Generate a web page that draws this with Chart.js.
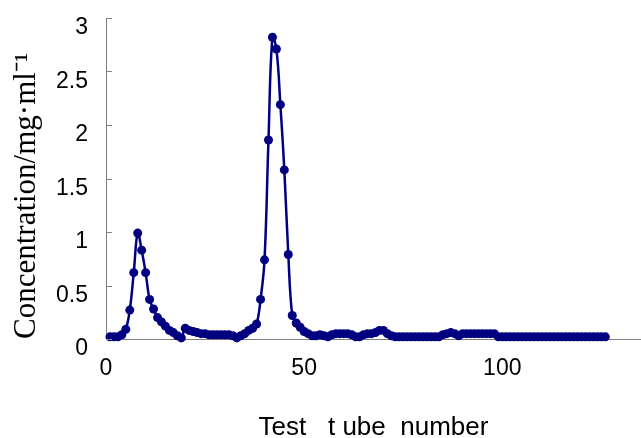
<!DOCTYPE html>
<html>
<head>
<meta charset="utf-8">
<script src="https://cdn.jsdelivr.net/npm/chart.js@4"></script>
<style>
    body { margin: 0; background: #ffffff; }
    #wrap { width: 641px; height: 438px; }
</style>
</head>
<body>
<div id="wrap"><canvas id="chart"></canvas></div>
<script>
const concentration = [
    0.02, 0.02, 0.02, 0.04, 0.09, 0.27, 0.62, 0.99, 0.83, 0.62,
    0.37, 0.28, 0.20, 0.16, 0.12, 0.08, 0.06, 0.03, 0.01, 0.10,
    0.08, 0.07, 0.06, 0.05, 0.05, 0.04, 0.04, 0.04, 0.04, 0.04,
    0.04, 0.03, 0.01, 0.03, 0.05, 0.08, 0.10, 0.14, 0.37, 0.74,
    1.86, 2.82, 2.71, 2.19, 1.58, 0.79, 0.22, 0.15, 0.11, 0.07,
    0.05, 0.03, 0.03, 0.04, 0.03, 0.02, 0.04, 0.05, 0.05, 0.05,
    0.05, 0.04, 0.02, 0.02, 0.04, 0.05, 0.05, 0.06, 0.08, 0.08,
    0.05, 0.03, 0.02, 0.02, 0.02, 0.02, 0.02, 0.02, 0.02, 0.02,
    0.02, 0.02, 0.02, 0.02, 0.04, 0.05, 0.06, 0.05, 0.03, 0.05,
    0.05, 0.05, 0.05, 0.05, 0.05, 0.05, 0.05, 0.05, 0.02, 0.02,
    0.02, 0.02, 0.02, 0.02, 0.02, 0.02, 0.02, 0.02, 0.02, 0.02,
    0.02, 0.02, 0.02, 0.02, 0.02, 0.02, 0.02, 0.02, 0.02, 0.02,
    0.02, 0.02, 0.02, 0.02, 0.02, 0.02
];
const firstTube = 1;
const tubes = concentration.map((v, i) => firstTube + i);

const xTicks = [0, 50, 100];
const yTicks = [0, 0.5, 1, 1.5, 2, 2.5, 3];

const lineColor = '#000080';
const axisColor = '#808080';

// short tick marks pointing into the plot, like the original
const innerTicks = {
    id: 'innerTicks',
    afterDraw(chart) {
        const ctx = chart.ctx;
        const y = chart.scales.y;
        const left = chart.chartArea.left;
        ctx.save();
        ctx.strokeStyle = axisColor;
        ctx.lineWidth = 1;
        yTicks.forEach(v => {
            const py = Math.round(y.getPixelForValue(v)) + 0.5;
            ctx.beginPath();
            ctx.moveTo(left, py);
            ctx.lineTo(left + 6, py);
            ctx.stroke();
        });
        ctx.restore();
    }
};

const ctx = document.getElementById('chart').getContext('2d');
new Chart(ctx, {
    type: 'line',
    data: {
        datasets: [{
            data: tubes.map((t, i) => ({ x: t, y: concentration[i] })),
            borderColor: lineColor,
            backgroundColor: lineColor,
            borderWidth: 2.5,
            pointRadius: 4.5,
            pointBorderWidth: 0,
            tension: 0.4,
            clip: false
        }]
    },
    options: {
        responsive: true,
        maintainAspectRatio: false,
        animation: false,
        layout: { autoPadding: false, padding: { top: 18, right: 0, bottom: 0, left: 0 } },
        plugins: {
            legend: { display: false },
            tooltip: { enabled: false }
        },
        scales: {
            x: {
                type: 'linear',
                min: 0,
                max: 135,
                afterBuildTicks: scale => { scale.ticks = xTicks.map(v => ({ value: v })); },
                afterFit: scale => {
                    scale.height = 99;
                    scale.paddingLeft = 0;
                    scale.paddingRight = 0;
                },
                grid: { display: false, drawTicks: false },
                border: { display: true, color: axisColor, width: 1 },
                ticks: {
                    color: '#000000',
                    padding: 16,
                    maxRotation: 0,
                    callback: v => String(v),
                    font: { family: 'Liberation Sans', size: 23 }
                },
                title: {
                    display: true,
                    text: 'Test   t ube  number',
                    color: '#000000',
                    padding: { top: 0, bottom: 0 },
                    font: { family: 'Liberation Sans', size: 26, lineHeight: 0.8 }
                }
            },
            y: {
                min: 0,
                max: 3,
                afterBuildTicks: scale => { scale.ticks = yTicks.map(v => ({ value: v })); },
                afterFit: scale => {
                    scale.width = 106;
                    scale.paddingTop = 0;
                    scale.paddingBottom = 0;
                },
                grid: { display: false, drawTicks: false },
                border: { display: true, color: axisColor, width: 1 },
                ticks: {
                    color: '#000000',
                    padding: 18,
                    labelOffset: 10,
                    callback: v => String(v),
                    font: { family: 'Liberation Sans', size: 23 }
                },
                title: {
                    display: true,
                    text: 'Concentration/mg·ml⁻¹',
                    color: '#000000',
                    align: 'start',
                    padding: { top: 8, bottom: 0 },
                    font: { family: 'Liberation Serif', size: 31 }
                }
            }
        }
    },
    plugins: [innerTicks]
});
</script>
</body>
</html>
